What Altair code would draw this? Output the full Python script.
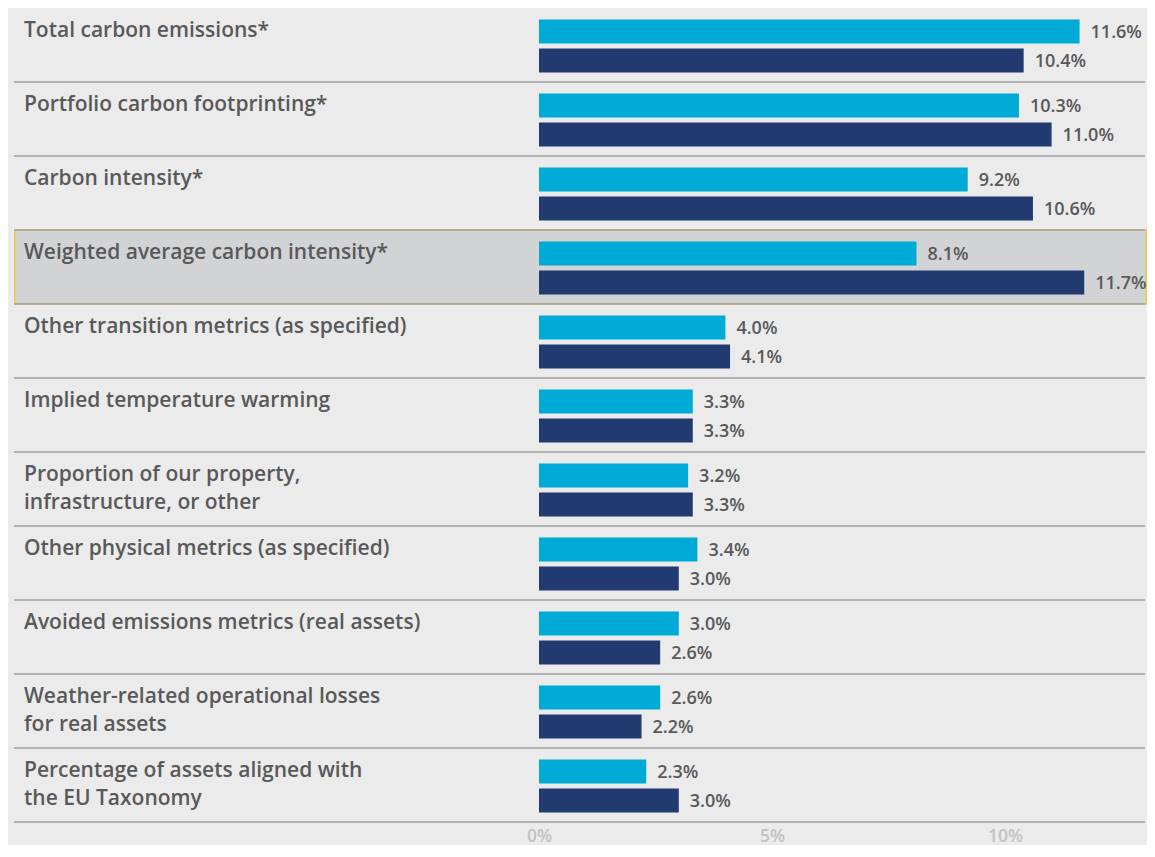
import altair as alt
import pandas as pd

categories = [
    "Total carbon emissions*",
    "Portfolio carbon footprinting*",
    "Carbon intensity*",
    "Weighted average carbon intensity*",
    "Other transition metrics (as specified)",
    "Implied temperature warming",
    "Proportion of our property,\ninfrastructure, or other",
    "Other physical metrics (as specified)",
    "Avoided emissions metrics (real assets)",
    "Weather-related operational losses\nfor real assets",
    "Percentage of assets aligned with\nthe EU Taxonomy",
]
series_names = ["Series 1", "Series 2"]
series_1 = [11.6, 10.3, 9.2, 8.1, 4.0, 3.3, 3.2, 3.4, 3.0, 2.6, 2.3]
series_2 = [10.4, 11.0, 10.6, 11.7, 4.1, 3.3, 3.3, 3.0, 2.6, 2.2, 3.0]
highlighted = ["Weighted average carbon intensity*"]
tick_values = [0, 5, 10]

rows = []
for c, a, b in zip(categories, series_1, series_2):
    rows.append({"category": c, "series": series_names[0], "value": a})
    rows.append({"category": c, "series": series_names[1], "value": b})
bars_df = pd.DataFrame(rows)
cat_df = pd.DataFrame({"category": categories})
hl_df = pd.DataFrame({"category": highlighted})

W = 1133
H = 814
SLOPE = 46.6
ZERO_PX = 525
FONT = "Open Sans"
TXT = "#595959"

yscale = alt.Scale(domain=categories, paddingInner=0, paddingOuter=0)
xscale = alt.Scale(domain=[-ZERO_PX / SLOPE, (W - ZERO_PX) / SLOPE], nice=False, zero=False)
off_scale = alt.Scale(domain=series_names, paddingInner=0.172, paddingOuter=0.362, align=0.55)

box = alt.Chart(hl_df).mark_rect(
    fill="#d2d3d5", stroke="#f3c64a", strokeWidth=1.5
).encode(
    y=alt.Y("category:N", scale=yscale, axis=None),
    x=alt.value(0.75),
    x2=alt.value(W - 0.75),
)

seps = alt.Chart(cat_df).mark_rule(color="#a0a0a0", strokeWidth=1.5).encode(
    y=alt.Y("category:N", scale=yscale, axis=None, bandPosition=1),
    x=alt.value(0),
    x2=alt.value(W - 2),
)

bars = alt.Chart(bars_df).mark_bar().encode(
    y=alt.Y("category:N", scale=yscale, axis=None),
    yOffset=alt.YOffset("series:N", scale=off_scale),
    x=alt.X(
        "value:Q",
        scale=xscale,
        stack=None,
        title=None,
        axis=alt.Axis(
            values=tick_values,
            labelExpr="datum.value + '%'",
            domain=False,
            ticks=False,
            grid=False,
            labelColor="#c2c2c2",
            labelFontSize=17.5,
            labelFont=FONT,
            labelFontWeight=600,
            labelPadding=5,
        ),
    ),
    color=alt.Color(
        "series:N",
        scale=alt.Scale(domain=series_names, range=["#00aad7", "#213a70"]),
        legend=None,
    ),
)

values = alt.Chart(bars_df).transform_calculate(
    label="format(datum.value, '.1f') + '%'"
).mark_text(
    align="left", baseline="middle", dx=11, dy=1, font=FONT, fontSize=18,
    fontWeight=600, color=TXT,
).encode(
    y=alt.Y("category:N", scale=yscale, axis=None),
    yOffset=alt.YOffset("series:N", scale=off_scale),
    x=alt.X("value:Q", scale=xscale),
    text="label:N",
)

labels = alt.Chart(cat_df).mark_text(
    align="left", baseline="top", dy=12, font=FONT, fontSize=21,
    fontWeight=600, color=TXT, lineBreak="\n", lineHeight=28,
).encode(
    y=alt.Y("category:N", scale=yscale, axis=None, bandPosition=0),
    x=alt.value(10),
    text="category:N",
)

chart = alt.layer(box, seps, bars, values, labels).properties(
    width=W,
    height=H,
    background="#ebebeb",
    padding={"left": 6, "top": 0, "right": 0, "bottom": 23},
    autosize=alt.AutoSizeParams(type="none"),
).configure_view(stroke=None)

chart.save("out.html", embed_options={"renderer": "svg", "actions": False})
